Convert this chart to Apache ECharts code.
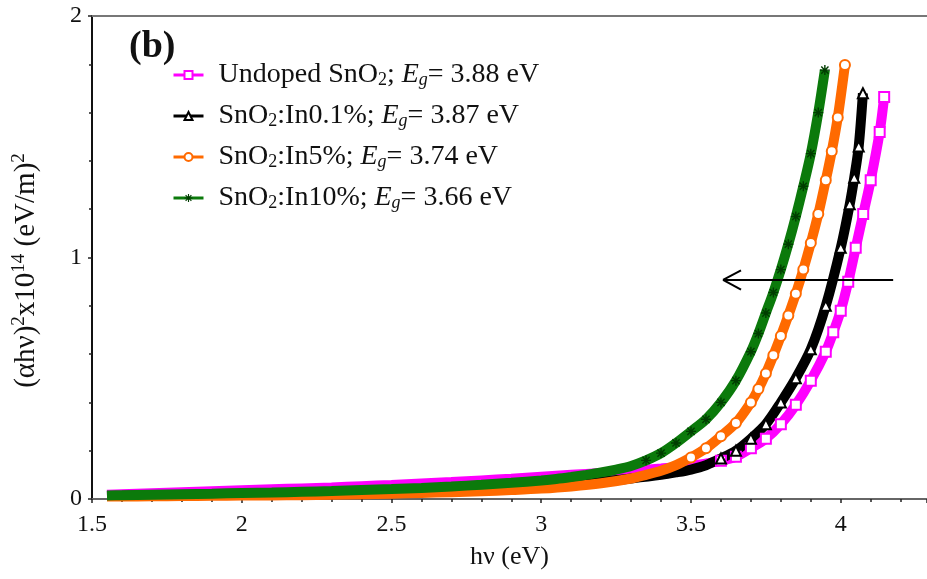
<!DOCTYPE html>
<html><head><meta charset="utf-8">
<script src="https://cdn.jsdelivr.net/npm/echarts@6/dist/echarts.min.js"></script>
<style>html,body{margin:0;padding:0;background:#fff}#c{width:927px;height:579px}</style>
</head><body><div id="c"></div><script>
const seriesNames = ['Undoped SnO2', 'SnO2:In0.1%', 'SnO2:In5%', 'SnO2:In10%'];
const bandGaps = ['3.88', '3.87', '3.74', '3.66'];
const panelLabel = '(b)';

const undopedX = [1.55,1.6,1.7,1.8,1.9,2.0,2.1,2.2,2.3,2.4,2.5,2.6,2.7,2.8,2.9,3.0,3.1,3.2,3.3,3.4,3.5,3.6,3.65,3.7,3.75,3.8,3.85,3.9,3.95,3.975,4.0,4.025,4.05,4.075,4.1,4.13,4.145];
const undopedY = [0.018,0.02,0.024,0.028,0.032,0.036,0.04,0.044,0.048,0.053,0.058,0.064,0.07,0.077,0.084,0.092,0.1,0.108,0.116,0.126,0.138,0.158,0.175,0.21,0.25,0.31,0.39,0.49,0.61,0.69,0.78,0.9,1.04,1.18,1.32,1.52,1.665];

const in01X = [1.55,1.6,1.7,1.8,1.9,2.0,2.1,2.2,2.3,2.4,2.5,2.6,2.7,2.8,2.9,3.0,3.1,3.2,3.3,3.4,3.45,3.5,3.55,3.6,3.65,3.7,3.75,3.8,3.85,3.9,3.95,4.0,4.03,4.045,4.06,4.074];
const in01Y = [0.012,0.013,0.015,0.016,0.018,0.02,0.022,0.024,0.026,0.029,0.032,0.035,0.039,0.043,0.048,0.054,0.062,0.072,0.085,0.1,0.11,0.122,0.14,0.168,0.2,0.25,0.31,0.4,0.5,0.62,0.8,1.04,1.22,1.33,1.46,1.68];

const in5X = [1.55,1.6,1.7,1.8,1.9,2.0,2.1,2.2,2.3,2.4,2.5,2.6,2.7,2.8,2.9,3.0,3.1,3.2,3.3,3.35,3.4,3.45,3.5,3.55,3.6,3.65,3.7,3.725,3.75,3.775,3.8,3.825,3.85,3.875,3.9,3.925,3.95,3.97,3.99,4.014];
const in5Y = [0.01,0.01,0.011,0.012,0.013,0.014,0.015,0.016,0.018,0.02,0.022,0.025,0.028,0.032,0.037,0.043,0.052,0.065,0.085,0.1,0.117,0.14,0.172,0.21,0.26,0.315,0.4,0.455,0.52,0.595,0.675,0.76,0.85,0.95,1.06,1.18,1.32,1.44,1.58,1.797];

const in10X = [1.55,1.6,1.7,1.8,1.9,2.0,2.1,2.2,2.3,2.4,2.5,2.6,2.7,2.8,2.9,3.0,3.05,3.1,3.15,3.2,3.25,3.3,3.35,3.4,3.45,3.5,3.55,3.6,3.65,3.7,3.725,3.75,3.775,3.8,3.825,3.85,3.875,3.9,3.925,3.947];
const in10Y = [0.015,0.016,0.018,0.02,0.022,0.025,0.027,0.03,0.033,0.037,0.041,0.046,0.052,0.059,0.067,0.077,0.083,0.091,0.1,0.11,0.122,0.137,0.16,0.19,0.232,0.28,0.33,0.4,0.49,0.61,0.685,0.77,0.855,0.95,1.055,1.17,1.295,1.43,1.6,1.776];

const arrowFromX = 4.175, arrowToX = 3.607, arrowLevel = 0.907, arrowHeadX = 3.667, arrowHeadHalf = 0.04;

const xs = [undopedX, in01X, in5X, in10X];
const ys = [undopedY, in01Y, in5Y, in10Y];
const colors = ['#ff00ff', '#000000', '#ff6a00', '#0b7a0b'];
const markerColors = ['#ff00ff', '#000000', '#ff6a00', '#003d00'];
const asterisk = 'path://M4.3,0H5.7V3.3L8.1,0.9L9.1,1.9L6.7,4.3H10V5.7H6.7L9.1,8.1L8.1,9.1L5.7,6.7V10H4.3V6.7L1.9,9.1L0.9,8.1L3.3,5.7H0V4.3H3.3L0.9,1.9L1.9,0.9L4.3,3.3Z';
const symbols = ['emptyRect', 'emptyTriangle', 'emptyCircle', asterisk];

const serif = '"Liberation Serif", "DejaVu Serif", serif';

function legendText(name) {
  const i = seriesNames.indexOf(name);
  const parts = name.split('SnO2');
  return '{sp| }{t|' + parts[0] + 'SnO}{sub|2}{t|' + parts[1] + '; }{i|E}{isub|g}{t|= ' + bandGaps[i] + ' eV}';
}

const series = seriesNames.map((name, k) => ({
  name: name,
  type: 'line',
  smooth: 0.3,
  showAllSymbol: true,
  symbol: symbols[k],
  symbolSize: 10,
  color: colors[k],
  lineStyle: { width: 10, color: colors[k] },
  itemStyle: { color: markerColors[k], borderWidth: 1.5 },
  emphasis: { disabled: true },
  data: xs[k].map((x, i) => ys[k][i] >= 0.15 ? [x, ys[k][i]] : { value: [x, ys[k][i]], symbol: 'none' }),
  markLine: k === 3 ? {
    silent: true,
    symbol: ['none', 'none'],
    label: { show: false },
    lineStyle: { color: '#000', width: 2, type: 'solid' },
    emphasis: { disabled: true },
    data: [
      [{ coord: [arrowFromX, arrowLevel] }, { coord: [arrowToX, arrowLevel] }],
      [{ coord: [arrowToX, arrowLevel] }, { coord: [arrowHeadX, arrowLevel + arrowHeadHalf] }],
      [{ coord: [arrowToX, arrowLevel] }, { coord: [arrowHeadX, arrowLevel - arrowHeadHalf] }]
    ]
  } : undefined
}));

const chart = echarts.init(document.getElementById('c'), null, { renderer: 'canvas' });
chart.setOption({
  animation: false,
  backgroundColor: '#fff',
  title: {
    text: panelLabel, left: 124, top: 23,
    textStyle: { fontFamily: serif, fontSize: 38, fontWeight: 'bold', color: '#111' }
  },
  grid: { left: 92, right: 0, top: 16, bottom: 80 },
  legend: {
    left: 167, top: 56, orient: 'vertical',
    itemWidth: 30, itemHeight: 10, itemGap: 13,
    lineStyle: { width: 3 },
    data: seriesNames,
    formatter: legendText,
    textStyle: {
      fontFamily: serif, color: '#111',
      rich: {
        sp: { width: 10, fontSize: 28 },
        t: { fontFamily: serif, fontSize: 28, color: '#111', lineHeight: 30, verticalAlign: 'middle' },
        sub: { fontFamily: serif, fontSize: 18, color: '#111', padding: [10, 0, 0, 0], verticalAlign: 'middle' },
        i: { fontFamily: serif, fontSize: 28, fontStyle: 'italic', color: '#111', lineHeight: 30, verticalAlign: 'middle' },
        isub: { fontFamily: serif, fontSize: 18, fontStyle: 'italic', color: '#111', padding: [10, 0, 0, 0], verticalAlign: 'middle' }
      }
    }
  },
  xAxis: [{
    type: 'value', min: 1.5, max: 4.288, interval: 0.5,
    name: 'hν (eV)', nameLocation: 'middle', nameGap: 45,
    nameTextStyle: { fontFamily: serif, fontSize: 26, color: '#111' },
    axisLine: { show: true, lineStyle: { color: '#666', width: 2 } },
    axisTick: { show: true, length: 4, lineStyle: { color: '#222', width: 1.5 } },
    minorTick: { show: true, splitNumber: 5, length: 3, lineStyle: { color: '#222', width: 1.5 } },
    axisLabel: { fontFamily: serif, fontSize: 24, color: '#111', margin: 14, showMaxLabel: false },
    splitLine: { show: false }
  }, {
    type: 'value', min: 1.5, max: 4.288, position: 'top',
    axisLine: { show: true, lineStyle: { color: '#777', width: 2 } },
    axisTick: { show: false }, axisLabel: { show: false }, splitLine: { show: false }
  }],
  yAxis: {
    type: 'value', min: 0, max: 2, interval: 1,
    name: '{t|(αhν)}{sup|2}{t|x10}{sup|14}{t| (eV/m)}{sup|2}',
    nameLocation: 'middle', nameGap: 49,
    nameTextStyle: {
      fontFamily: serif, fontSize: 29, color: '#111', padding: [0, 26, 0, 0],
      rich: {
        t: { fontFamily: serif, fontSize: 29, color: '#111', verticalAlign: 'middle' },
        sup: { fontFamily: serif, fontSize: 19, color: '#111', padding: [0, 0, 14, 0], verticalAlign: 'middle' }
      }
    },
    axisLine: { show: true, lineStyle: { color: '#111', width: 2 } },
    axisTick: { show: true, length: 4, lineStyle: { color: '#222', width: 1.5 } },
    minorTick: { show: true, splitNumber: 5, length: 3, lineStyle: { color: '#222', width: 1.5 } },
    axisLabel: { fontFamily: serif, fontSize: 24, color: '#111', margin: 10 },
    splitLine: { show: false }
  },
  series: series
});
</script></body></html>
